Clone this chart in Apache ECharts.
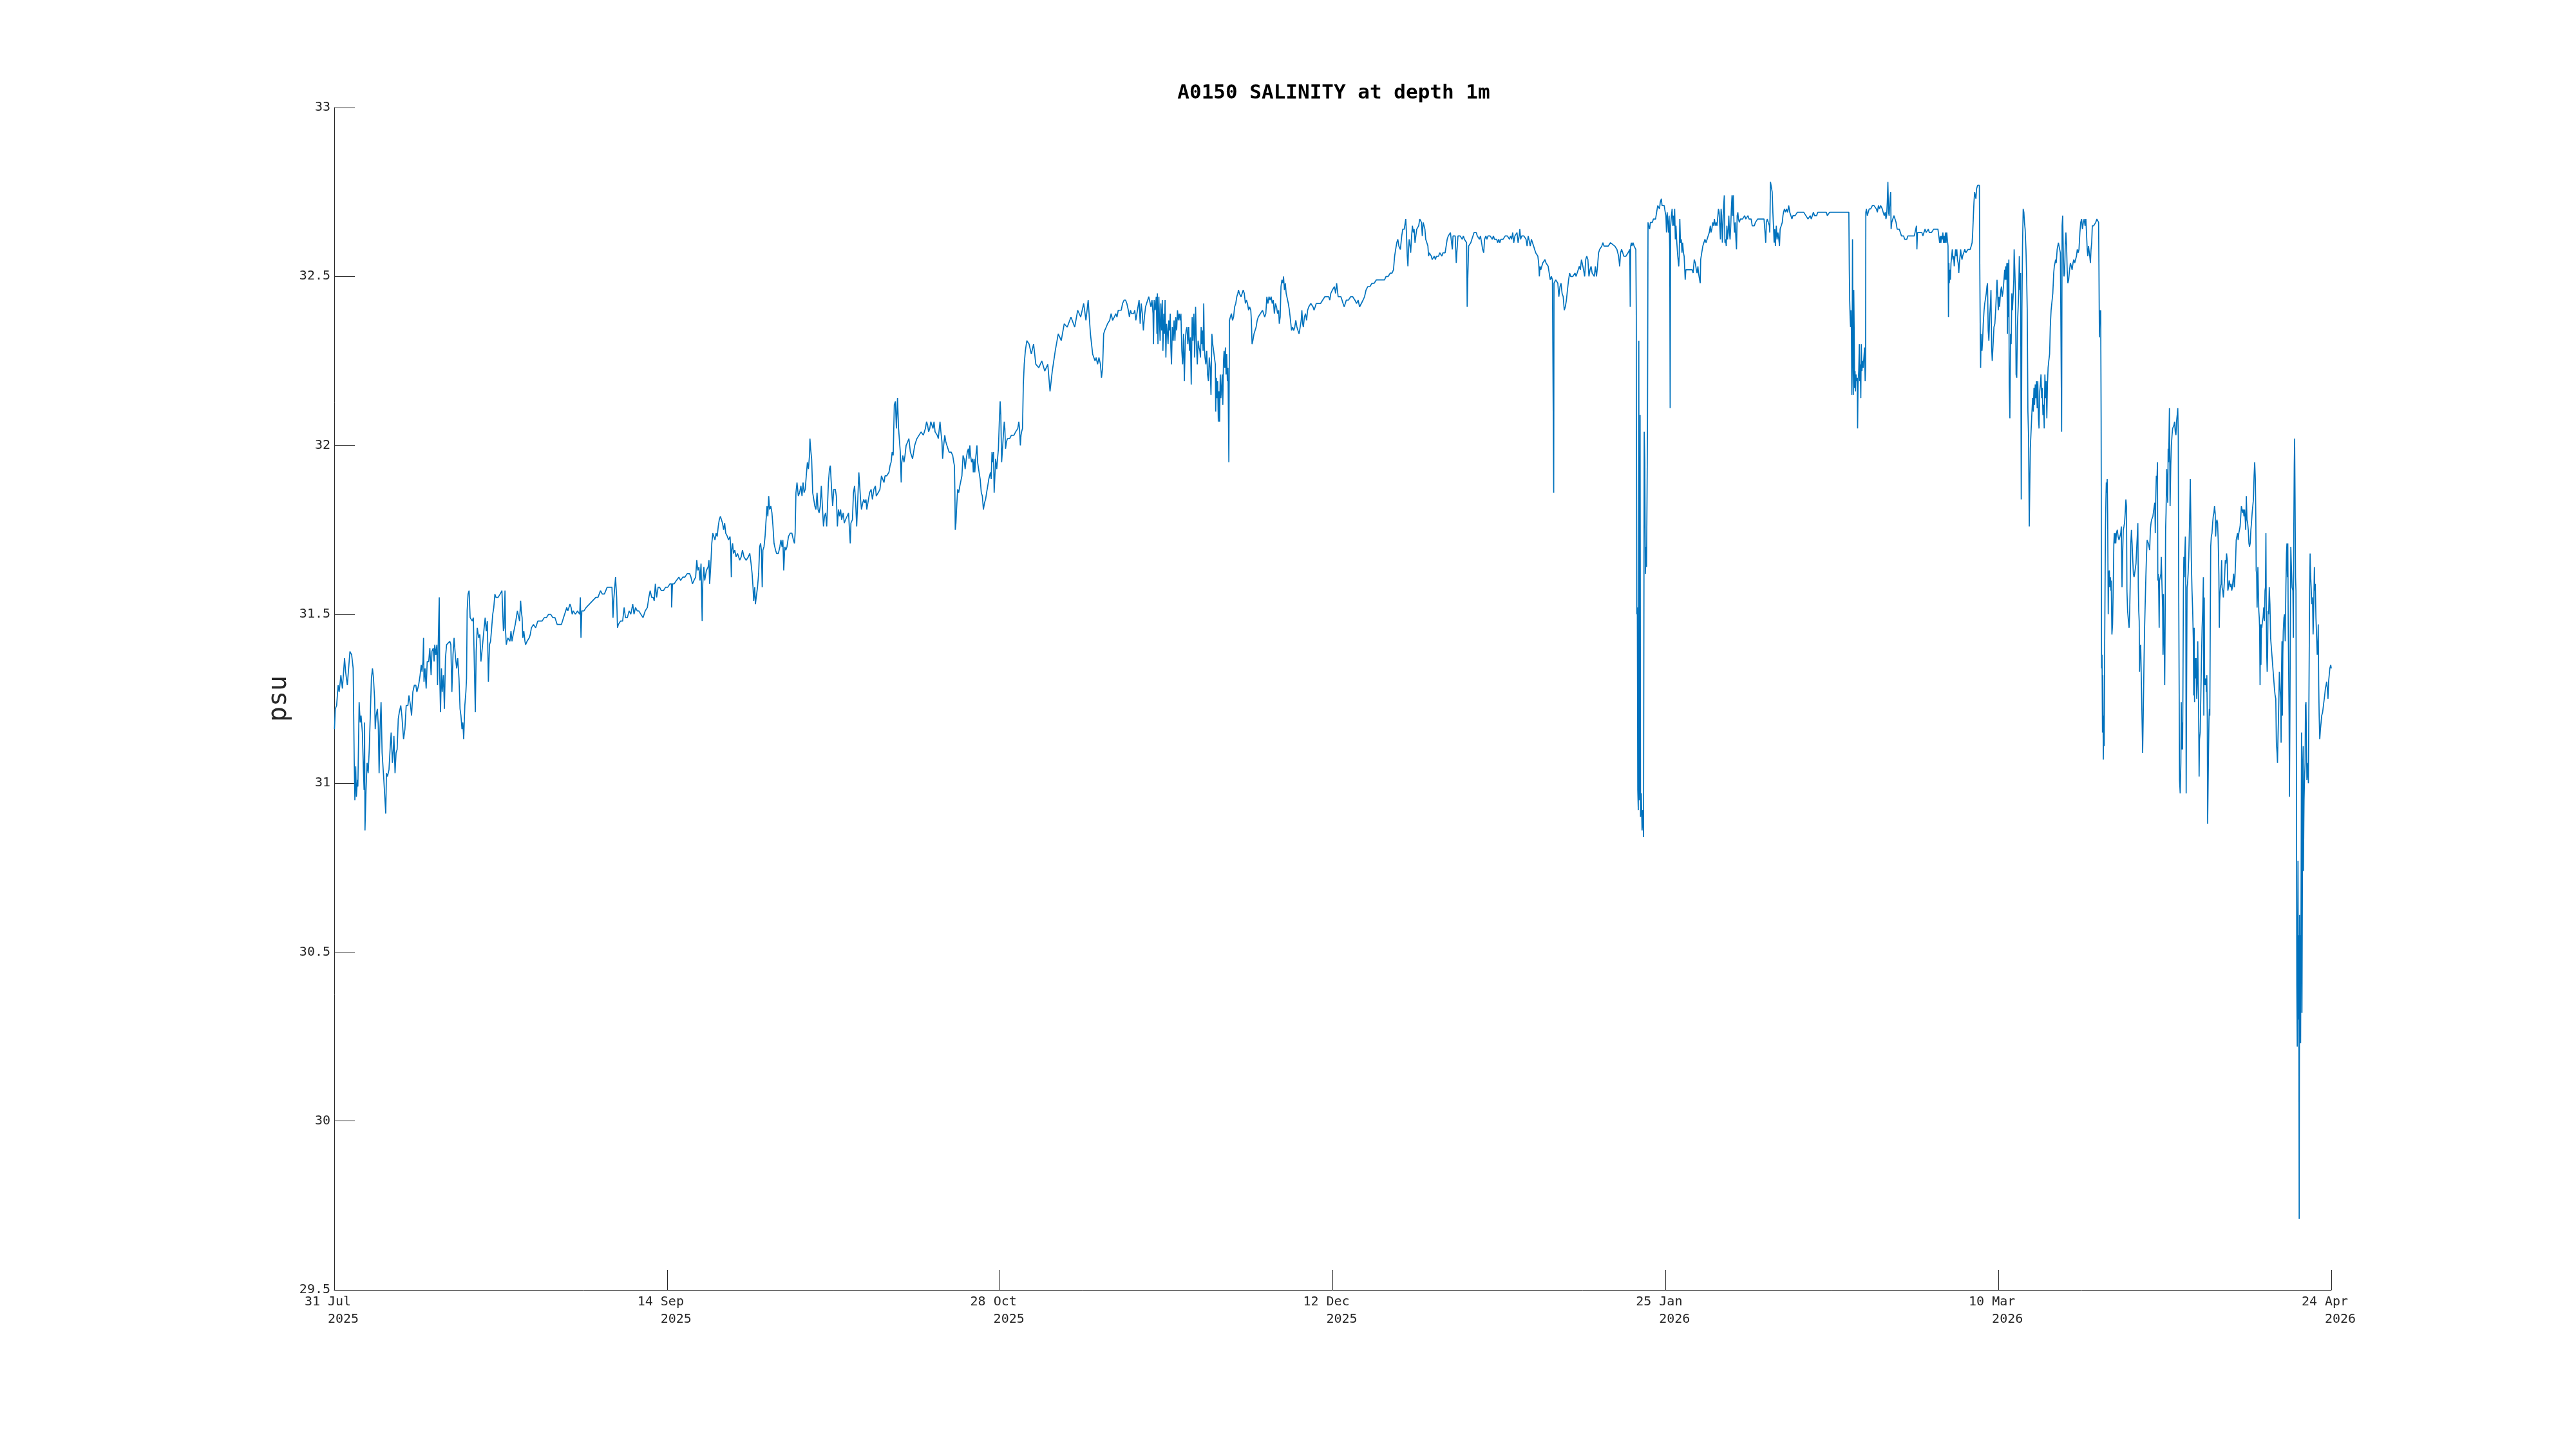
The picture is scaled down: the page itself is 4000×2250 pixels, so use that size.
<!DOCTYPE html>
<html>
<head>
<meta charset="utf-8">
<script src="https://cdn.jsdelivr.net/npm/echarts@6/dist/echarts.min.js"></script>
<style>html,body{margin:0;padding:0;background:#fff}#chart{width:4000px;height:2250px}</style>
</head>
<body>
<div id="chart"></div>
<script>
// ---- text ----
const titleText = 'A0150 SALINITY at depth 1m';
const yAxisName = 'psu';
// ---- x tick labels (ticks every 44.5 days from 31 Jul 2025) ----
const tickStepDays = 44.5;
const tickDayMonth = ['31 Jul', '14 Sep', '28 Oct', '12 Dec', '25 Jan', '10 Mar', '24 Apr'];
const tickYear = ['2025', '2025', '2025', '2025', '2026', '2026', '2026'];
// ---- y ticks ----
const yMin = 29.5, yMax = 33, yStep = 0.5;
// ---- salinity readings: [days since 31 Jul 2025 00:00, psu] ----
const readingsJulAug = [[0.03,31.16],[0.14,31.22],[0.32,31.23],[0.52,31.29],[0.66,31.27],[0.89,31.32],[1.09,31.28],[1.38,31.37],[1.52,31.33],[1.75,31.29],[2.10,31.39],[2.33,31.38],[2.53,31.34],[2.67,31.07],[2.76,30.95],[2.87,31.05],[2.96,30.96],[3.10,31.01],[3.16,30.99],[3.33,31.24],[3.47,31.18],[3.59,31.20],[3.76,31.15],[3.90,31.04],[3.99,30.98],[4.06,31.18],[4.11,30.86],[4.25,30.98],[4.39,31.06],[4.54,31.03],[4.68,31.10],[4.82,31.20],[4.97,31.31],[5.11,31.34],[5.25,31.31],[5.40,31.25],[5.48,31.16],[5.60,31.20],[5.77,31.22],[5.89,31.17],[6.00,31.03],[6.12,31.16],[6.26,31.24],[6.40,31.09],[6.63,31.01],[6.75,31.01],[6.89,30.91],[6.98,31.03],[7.12,31.02],[7.32,31.04],[7.49,31.11],[7.61,31.15],[7.78,31.06],[7.90,31.10],[7.98,31.14],[8.13,31.03],[8.27,31.09],[8.41,31.10],[8.56,31.19],[8.70,31.21],[8.90,31.23],[9.04,31.20],[9.27,31.13],[9.45,31.16],[9.62,31.23],[9.85,31.23],[9.99,31.26],[10.19,31.23],[10.34,31.20],[10.51,31.27],[10.71,31.29],[10.91,31.29],[11.05,31.27],[11.28,31.29],[11.48,31.32],[11.63,31.35],[11.74,31.33],[11.86,31.36],[11.94,31.43],[12.00,31.30],[12.14,31.34],[12.29,31.28],[12.43,31.36],[12.63,31.36],[12.78,31.40],[12.95,31.32],[13.06,31.39],[13.24,31.40],[13.35,31.36],[13.44,31.41],[13.58,31.38],[13.72,31.41],[13.81,31.29],[13.92,31.43],[14.04,31.55],[14.10,31.32],[14.21,31.21],[14.33,31.34],[14.44,31.27],[14.59,31.32],[14.73,31.22],[14.87,31.37],[15.02,31.41],[15.19,31.41],[15.45,31.42],[15.59,31.41],[15.73,31.27],[15.88,31.38],[16.02,31.43],[16.22,31.37],[16.37,31.34],[16.51,31.37],[16.68,31.31],[16.82,31.22],[16.94,31.20],[17.08,31.16],[17.20,31.18],[17.31,31.13],[17.46,31.23],[17.60,31.27],[17.69,31.31],[17.77,31.51],[17.89,31.56],[18.03,31.57],[18.17,31.49],[18.32,31.49],[18.46,31.48],[18.60,31.49],[18.75,31.49],[18.86,31.21],[18.98,31.39],[19.12,31.46],[19.32,31.43],[19.47,31.44],[19.61,31.36],[19.75,31.39],[19.90,31.39],[20.04,31.46],[20.18,31.49],[20.33,31.45],[20.47,31.48],[20.61,31.30],[20.76,31.41],[20.90,31.42],[21.05,31.46],[21.19,31.50],[21.33,31.52],[21.48,31.56],[21.62,31.55],[21.91,31.55],[22.19,31.56],[22.42,31.57],[22.62,31.45],[22.71,31.46],[22.83,31.57],[22.91,31.45],[23.00,31.41],[23.20,31.43],[23.49,31.42],[23.63,31.45],[23.77,31.42],[23.92,31.44],[24.20,31.47],[24.49,31.51],[24.63,31.51],[24.78,31.48],[24.92,31.54],[25.01,31.51],[25.12,31.49],[25.21,31.43],[25.35,31.45],[25.50,31.42],[25.58,31.41],[25.78,31.42],[26.07,31.43],[26.21,31.44],[26.36,31.46],[26.64,31.47],[26.93,31.46],[27.22,31.48],[27.50,31.48],[27.79,31.48],[28.08,31.49],[28.37,31.49],[28.65,31.50],[28.94,31.50],[29.23,31.49],[29.51,31.49],[29.80,31.47],[30.09,31.47],[30.38,31.47],[30.66,31.49],[30.95,31.51],[31.09,31.52],[31.24,31.51],[31.38,31.52],[31.52,31.53],[31.67,31.52],[31.81,31.50],[31.96,31.51],[32.24,31.50],[32.53,31.51],[32.82,31.50],[32.90,31.55],[32.99,31.43],[33.10,31.51],[33.39,31.51],[33.68,31.52]];
const readingsSepOct = [[34.11,31.53],[34.54,31.54],[34.97,31.55],[35.26,31.55],[35.60,31.57],[35.83,31.56],[36.12,31.56],[36.49,31.58],[36.84,31.58],[37.13,31.58],[37.27,31.49],[37.36,31.54],[37.61,31.61],[37.76,31.55],[37.87,31.46],[37.99,31.47],[38.28,31.48],[38.56,31.48],[38.76,31.52],[38.94,31.49],[39.19,31.49],[39.42,31.51],[39.65,31.50],[39.91,31.53],[40.08,31.50],[40.28,31.52],[40.51,31.51],[40.72,31.51],[41.00,31.50],[41.29,31.49],[41.58,31.51],[41.86,31.52],[42.06,31.55],[42.24,31.57],[42.44,31.55],[42.64,31.55],[42.78,31.54],[42.93,31.59],[43.10,31.55],[43.30,31.58],[43.50,31.58],[43.73,31.57],[44.02,31.57],[44.30,31.58],[44.59,31.58],[44.88,31.59],[45.08,31.59],[45.11,31.52],[45.22,31.59],[45.45,31.59],[45.74,31.60],[46.08,31.61],[46.31,31.60],[46.60,31.61],[46.89,31.61],[47.18,31.62],[47.52,31.62],[47.69,31.61],[47.89,31.59],[48.09,31.60],[48.32,31.61],[48.47,31.66],[48.61,31.63],[48.76,31.64],[48.90,31.60],[49.04,31.65],[49.19,31.48],[49.27,31.59],[49.42,31.64],[49.53,31.60],[49.76,31.63],[49.99,31.64],[50.10,31.66],[50.19,31.59],[50.33,31.64],[50.48,31.71],[50.62,31.74],[50.76,31.74],[50.91,31.72],[51.05,31.74],[51.20,31.73],[51.34,31.76],[51.48,31.78],[51.63,31.79],[51.77,31.79],[51.91,31.77],[52.06,31.75],[52.20,31.77],[52.34,31.74],[52.57,31.73],[52.72,31.72],[52.92,31.73],[53.00,31.70],[53.09,31.61],[53.15,31.69],[53.26,31.71],[53.38,31.68],[53.55,31.69],[53.72,31.67],[53.92,31.68],[54.07,31.67],[54.21,31.66],[54.41,31.67],[54.58,31.69],[54.78,31.67],[55.07,31.66],[55.36,31.67],[55.56,31.68],[55.73,31.65],[55.87,31.62],[55.99,31.58],[56.08,31.54],[56.22,31.58],[56.31,31.53],[56.42,31.55],[56.59,31.58],[56.74,31.62],[56.88,31.70],[57.00,31.71],[57.11,31.69],[57.22,31.58],[57.31,31.69],[57.46,31.70],[57.60,31.73],[57.71,31.77],[57.86,31.82],[57.97,31.79],[58.09,31.85],[58.20,31.81],[58.37,31.82],[58.52,31.80],[58.66,31.76],[58.80,31.71],[59.00,31.69],[59.15,31.68],[59.38,31.68],[59.58,31.70],[59.72,31.72],[59.87,31.70],[59.98,31.72],[60.10,31.63],[60.24,31.70],[60.38,31.69],[60.53,31.70],[60.73,31.73],[60.96,31.74],[61.19,31.74],[61.39,31.72],[61.53,31.71],[61.62,31.74],[61.73,31.86],[61.87,31.89],[62.05,31.85],[62.22,31.86],[62.39,31.88],[62.54,31.85],[62.68,31.89],[62.82,31.86],[62.97,31.87],[63.11,31.91],[63.26,31.95],[63.40,31.93],[63.54,31.97],[63.60,32.02],[63.69,31.99],[63.83,31.96],[63.97,31.86],[64.12,31.86],[64.26,31.82],[64.40,31.81],[64.55,31.86],[64.69,31.81],[64.83,31.80],[64.98,31.82],[65.12,31.88],[65.26,31.88],[65.41,31.76],[65.55,31.79],[65.69,31.80],[65.84,31.76],[65.98,31.76],[66.07,31.89],[66.21,31.93],[66.33,31.94],[66.47,31.88],[66.64,31.82],[66.79,31.87],[66.99,31.87],[67.13,31.85],[67.27,31.76]];
const readingsOct = [[67.41,31.81],[67.56,31.79],[67.70,31.81],[67.84,31.78],[68.05,31.80],[68.19,31.77],[68.36,31.78],[68.56,31.79],[68.76,31.80],[68.91,31.80],[68.99,31.71],[69.08,31.77],[69.28,31.78],[69.42,31.86],[69.57,31.88],[69.71,31.83],[69.85,31.76],[70.00,31.84],[70.14,31.92],[70.29,31.92],[70.37,31.84],[70.49,31.81],[70.66,31.83],[70.80,31.84],[70.95,31.83],[71.09,31.84],[71.20,31.81],[71.35,31.83],[71.58,31.86],[71.78,31.87],[71.95,31.84],[72.15,31.87],[72.35,31.88],[72.47,31.85],[72.73,31.86],[72.96,31.87],[73.16,31.91],[73.30,31.91],[73.50,31.89],[73.64,31.91],[73.87,31.91],[74.16,31.92],[74.31,31.94],[74.45,31.95],[74.59,31.98],[74.73,31.97],[74.88,32.12],[75.02,32.13],[75.16,32.05],[75.31,32.14],[75.45,32.05],[75.60,32.05],[75.68,31.98],[75.80,31.89],[75.88,31.95],[76.02,31.97],[76.17,31.95],[76.31,31.97],[76.46,32.00],[76.66,32.01],[76.83,32.02],[77.03,31.98],[77.18,31.97],[77.32,31.96],[77.46,31.98],[77.61,32.00],[77.75,32.01],[77.90,32.02],[78.04,32.02],[78.18,32.03],[78.33,32.03],[78.47,32.04],[78.61,32.04],[78.76,32.03],[78.90,32.04],[79.04,32.05],[79.19,32.07],[79.33,32.06],[79.47,32.04],[79.62,32.05],[79.76,32.07],[79.90,32.07],[80.05,32.05],[80.19,32.07],[80.33,32.04],[80.48,32.04],[80.62,32.03],[80.76,32.02],[80.91,32.02],[80.99,32.07],[81.11,32.04],[81.25,32.01],[81.34,31.96],[81.48,32.00],[81.63,32.03],[81.77,32.01],[81.91,32.00],[82.06,32.00],[82.20,31.98],[82.49,31.98],[82.69,31.97],[82.83,31.95],[82.92,31.94],[82.98,31.86],[83.03,31.75],[83.12,31.77],[83.20,31.81],[83.35,31.87],[83.49,31.86],[83.64,31.88],[83.78,31.88],[83.92,31.91],[84.07,31.97],[84.21,31.96],[84.35,31.93],[84.50,31.96],[84.64,31.98],[84.78,31.99],[84.87,31.96],[84.98,32.00],[85.07,31.97],[85.21,31.95],[85.36,31.96],[85.44,31.92],[85.56,31.96],[85.64,31.92],[85.79,31.97],[85.93,32.00],[86.02,31.95],[86.13,31.95],[86.22,31.92],[86.36,31.90],[86.51,31.86],[86.65,31.85],[86.79,31.81],[86.94,31.83],[87.08,31.84],[87.22,31.86],[87.37,31.88],[87.51,31.90],[87.65,31.90],[87.74,31.92],[87.83,31.90],[87.94,31.98],[88.03,31.95],[88.14,31.98],[88.23,31.86],[88.32,31.86],[88.43,31.96],[88.58,31.93],[88.72,31.97],[88.80,31.99],[88.92,32.07],[89.03,32.13],[89.12,32.09],[89.23,31.95],[89.32,31.98],[89.43,32.02],[89.58,32.07],[89.66,32.05],[89.75,31.99],[89.87,32.01],[90.01,32.02],[90.15,32.02],[90.30,32.02],[90.53,32.03],[90.67,32.03],[90.87,32.03],[91.10,32.04],[91.24,32.04],[91.39,32.05],[91.53,32.07],[91.62,32.05],[91.73,32.00],[91.82,32.03],[91.90,32.04],[92.02,32.05],[92.13,32.18],[92.25,32.24],[92.40,32.28],[92.60,32.31],[92.90,32.30],[93.20,32.27],[93.50,32.30],[93.80,32.24],[94.20,32.23],[94.60,32.25],[95.00,32.22],[95.40,32.24],[95.70,32.16],[96.00,32.22],[96.40,32.28],[96.80,32.33],[97.20,32.31],[97.60,32.36],[98.00,32.35],[98.50,32.38],[99.00,32.35],[99.40,32.40],[99.80,32.38],[100.20,32.42],[100.50,32.37],[100.80,32.43],[101.10,32.33],[101.40,32.27]];
const readingsNovDec = [[101.72,32.25],[101.86,32.26],[102.06,32.24],[102.24,32.26],[102.44,32.24],[102.58,32.20],[102.73,32.23],[102.87,32.33],[103.01,32.34],[103.21,32.35],[103.39,32.36],[103.50,32.36],[103.67,32.37],[103.87,32.39],[104.07,32.37],[104.30,32.38],[104.48,32.39],[104.65,32.38],[104.82,32.40],[105.02,32.40],[105.22,32.40],[105.40,32.42],[105.60,32.43],[105.80,32.43],[105.97,32.42],[106.17,32.40],[106.31,32.38],[106.46,32.40],[106.60,32.39],[106.74,32.39],[106.89,32.39],[107.03,32.40],[107.17,32.37],[107.32,32.37],[107.46,32.41],[107.61,32.43],[107.75,32.36],[107.89,32.42],[108.04,32.39],[108.18,32.34],[108.32,32.38],[108.47,32.41],[108.61,32.42],[108.75,32.42],[108.90,32.44],[109.04,32.44],[109.19,32.41],[109.33,32.43],[109.47,32.39],[109.53,32.30],[109.62,32.43],[109.76,32.40],[109.90,32.44],[109.99,32.33],[110.05,32.45],[110.13,32.30],[110.25,32.44],[110.33,32.37],[110.42,32.31],[110.51,32.42],[110.62,32.34],[110.71,32.43],[110.79,32.28],[110.91,32.39],[110.99,32.33],[111.08,32.43],[111.19,32.26],[111.28,32.36],[111.40,32.33],[111.48,32.30],[111.57,32.37],[111.68,32.34],[111.77,32.39],[111.85,32.29],[111.94,32.24],[112.05,32.35],[112.17,32.31],[112.28,32.37],[112.40,32.31],[112.51,32.38],[112.63,32.34],[112.74,32.40],[112.86,32.37],[112.97,32.39],[113.09,32.37],[113.20,32.39],[113.32,32.28],[113.43,32.24],[113.55,32.33],[113.66,32.19],[113.78,32.31],[113.89,32.34],[114.01,32.35],[114.12,32.30],[114.24,32.35],[114.35,32.28],[114.47,32.32],[114.58,32.18],[114.70,32.38],[114.81,32.31],[114.93,32.39],[115.04,32.26],[115.16,32.41],[115.27,32.30],[115.39,32.24],[115.50,32.31],[115.62,32.29],[115.73,32.28],[115.82,32.26],[115.90,32.35],[115.99,32.30],[116.08,32.34],[116.16,32.28],[116.25,32.42],[116.33,32.29],[116.42,32.26],[116.53,32.24],[116.65,32.28],[116.76,32.21],[116.88,32.19],[116.99,32.26],[117.11,32.23],[117.22,32.15],[117.34,32.33],[117.45,32.30],[117.57,32.28],[117.68,32.26],[117.80,32.24],[117.85,32.10],[117.94,32.20],[118.03,32.14],[118.11,32.19],[118.20,32.07],[118.28,32.16],[118.37,32.07],[118.46,32.21],[118.54,32.14],[118.63,32.17],[118.72,32.21],[118.80,32.12],[118.89,32.25],[118.97,32.28],[119.06,32.23],[119.15,32.29],[119.23,32.21],[119.32,32.27],[119.41,32.19],[119.49,32.23],[119.55,32.09],[119.61,31.95],[119.69,32.37],[119.81,32.38],[119.95,32.39],[120.10,32.37],[120.24,32.38],[120.38,32.41],[120.53,32.42],[120.67,32.44],[120.81,32.45],[120.90,32.46],[121.01,32.45],[121.13,32.45],[121.24,32.44],[121.39,32.45],[121.53,32.46],[121.67,32.45],[121.82,32.42],[121.96,32.43],[122.10,32.42],[122.25,32.40],[122.39,32.41],[122.54,32.40],[122.62,32.37],[122.71,32.30],[122.82,32.31],[122.97,32.33],[123.11,32.33],[123.25,32.35],[123.40,32.37],[123.54,32.38],[123.68,32.38],[123.83,32.39],[123.97,32.39],[124.11,32.40],[124.26,32.40],[124.40,32.38],[124.55,32.39],[124.69,32.44],[124.83,32.42],[124.98,32.44],[125.12,32.43],[125.26,32.44],[125.41,32.42],[125.55,32.43],[125.69,32.39],[125.84,32.42],[125.98,32.41],[126.12,32.39],[126.27,32.40],[126.35,32.36],[126.47,32.38],[126.58,32.47],[126.70,32.49],[126.84,32.48],[126.92,32.50],[127.04,32.46],[127.16,32.48],[127.27,32.45],[127.42,32.45],[127.56,32.42],[127.70,32.40],[127.85,32.37],[127.99,32.34],[128.13,32.35],[128.28,32.34],[128.42,32.35],[128.56,32.37],[128.71,32.35],[128.85,32.34],[129.00,32.33],[129.14,32.35],[129.28,32.37],[129.37,32.40],[129.48,32.36],[129.57,32.35],[129.71,32.38],[129.86,32.39],[130.00,32.37],[130.14,32.40],[130.29,32.41],[130.43,32.41],[130.57,32.42],[130.72,32.42],[130.86,32.41],[131.00,32.40],[131.15,32.41],[131.29,32.42],[131.58,32.42],[131.87,32.42],[132.15,32.43],[132.44,32.44],[132.73,32.44],[132.96,32.44],[133.10,32.43],[133.24,32.45],[133.45,32.46],[133.59,32.46],[133.73,32.47],[133.88,32.45],[134.02,32.48],[134.11,32.48],[134.22,32.44],[134.39,32.44],[134.59,32.44],[134.74,32.43],[134.88,32.42],[135.03,32.41],[135.17,32.42],[135.31,32.43],[135.60,32.43],[135.89,32.44],[136.17,32.44]];
const readingsDecJan = [[136.46,32.43],[136.69,32.42],[136.89,32.43],[137.09,32.41],[137.32,32.42],[137.55,32.43],[137.75,32.44],[137.95,32.46],[138.18,32.47],[138.47,32.47],[138.75,32.48],[139.04,32.48],[139.33,32.49],[139.62,32.49],[139.90,32.49],[140.19,32.49],[140.42,32.49],[140.62,32.50],[140.91,32.50],[141.19,32.51],[141.42,32.51],[141.62,32.52],[141.77,32.56],[141.91,32.58],[142.06,32.60],[142.20,32.61],[142.34,32.59],[142.54,32.58],[142.72,32.62],[142.86,32.64],[143.06,32.64],[143.26,32.67],[143.35,32.63],[143.46,32.56],[143.55,32.53],[143.63,32.58],[143.72,32.61],[143.84,32.59],[143.92,32.57],[144.04,32.62],[144.15,32.65],[144.27,32.63],[144.38,32.64],[144.50,32.60],[144.61,32.62],[144.73,32.64],[144.87,32.64],[144.99,32.65],[145.13,32.67],[145.24,32.67],[145.36,32.66],[145.47,32.62],[145.59,32.66],[145.70,32.66],[145.82,32.64],[145.93,32.61],[146.08,32.61],[146.22,32.59],[146.31,32.56],[146.42,32.57],[146.56,32.57],[146.68,32.56],[146.79,32.55],[146.94,32.55],[147.08,32.56],[147.22,32.55],[147.37,32.56],[147.51,32.56],[147.65,32.56],[147.80,32.57],[147.94,32.57],[148.09,32.56],[148.23,32.57],[148.37,32.57],[148.52,32.57],[148.66,32.59],[148.80,32.61],[148.95,32.62],[149.09,32.62],[149.23,32.63],[149.38,32.63],[149.49,32.58],[149.58,32.62],[149.72,32.62],[149.87,32.62],[150.01,32.54],[150.09,32.57],[150.24,32.62],[150.38,32.62],[150.53,32.62],[150.67,32.62],[150.81,32.61],[150.96,32.62],[151.10,32.61],[151.24,32.61],[151.39,32.60],[151.44,32.50],[151.47,32.41],[151.56,32.50],[151.67,32.59],[151.82,32.59],[151.96,32.60],[152.10,32.61],[152.25,32.62],[152.39,32.63],[152.53,32.63],[152.68,32.63],[152.82,32.62],[152.97,32.62],[153.11,32.61],[153.25,32.62],[153.40,32.60],[153.54,32.58],[153.68,32.57],[153.80,32.61],[153.97,32.62],[154.11,32.61],[154.26,32.62],[154.40,32.62],[154.54,32.62],[154.69,32.62],[154.83,32.61],[154.98,32.62],[155.12,32.61],[155.26,32.61],[155.41,32.61],[155.55,32.60],[155.69,32.61],[155.84,32.60],[155.98,32.61],[156.12,32.61],[156.27,32.61],[156.41,32.61],[156.55,32.62],[156.70,32.62],[156.84,32.62],[156.99,32.62],[157.13,32.61],[157.27,32.62],[157.42,32.61],[157.56,32.63],[157.70,32.60],[157.85,32.62],[157.99,32.62],[158.13,32.63],[158.28,32.60],[158.42,32.62],[158.51,32.64],[158.62,32.61],[158.77,32.62],[158.91,32.62],[159.05,32.62],[159.20,32.62],[159.34,32.61],[159.48,32.59],[159.63,32.62],[159.77,32.62],[159.91,32.59],[160.06,32.61],[160.20,32.61],[160.35,32.59],[160.49,32.58],[160.63,32.57],[160.78,32.57],[160.92,32.56],[161.03,32.54],[161.12,32.50],[161.21,32.53],[161.32,32.52],[161.43,32.52],[161.58,32.54],[161.72,32.54],[161.87,32.55],[162.01,32.54],[162.15,32.54],[162.30,32.53],[162.44,32.51],[162.58,32.49],[162.73,32.50],[162.87,32.49],[163.01,32.49],[163.04,31.86],[163.08,32.48],[163.16,32.48],[163.30,32.49],[163.44,32.49],[163.59,32.48],[163.73,32.44],[163.88,32.47],[164.02,32.48],[164.16,32.45],[164.31,32.44],[164.45,32.40],[164.59,32.41],[164.74,32.43],[164.88,32.46],[165.03,32.49],[165.17,32.51],[165.31,32.50],[165.46,32.50],[165.60,32.50],[165.74,32.50],[165.89,32.51],[166.03,32.50],[166.17,32.50],[166.32,32.52],[166.46,32.53],[166.60,32.52],[166.75,32.55],[166.89,32.55],[167.03,32.52],[167.18,32.50],[167.32,32.55],[167.46,32.56],[167.61,32.55],[167.75,32.50],[167.90,32.52],[168.04,32.53],[168.18,32.51],[168.33,32.51],[168.47,32.50],[168.61,32.53],[168.76,32.50],[168.90,32.53],[169.04,32.57],[169.19,32.58],[169.33,32.58],[169.47,32.59],[169.62,32.60],[169.76,32.59],[169.90,32.59],[170.05,32.59],[170.19,32.59],[170.34,32.59],[170.48,32.59]];
const readingsJanFeb = [[170.63,32.60],[171.20,32.59],[171.49,32.58],[171.72,32.56],[171.86,32.53],[171.98,32.57],[172.12,32.58],[172.27,32.57],[172.41,32.56],[172.55,32.56],[172.70,32.56],[172.87,32.56],[172.98,32.57],[173.10,32.57],[173.21,32.58],[173.27,32.41],[173.33,32.59],[173.42,32.60],[173.50,32.59],[173.64,32.60],[173.79,32.59],[173.93,32.59],[174.02,32.58],[174.08,32.40],[174.15,31.50],[174.22,31.52],[174.28,30.98],[174.35,30.92],[174.42,32.31],[174.48,30.95],[174.53,31.00],[174.59,32.09],[174.65,30.90],[174.75,30.97],[174.85,30.86],[174.95,30.92],[175.05,30.84],[175.14,32.04],[175.22,31.95],[175.30,31.62],[175.38,31.70],[175.45,31.64],[175.52,31.85],[175.58,32.05],[175.65,32.66],[175.74,32.66],[175.86,32.64],[175.97,32.66],[176.09,32.66],[176.23,32.66],[176.37,32.67],[176.52,32.67],[176.66,32.67],[176.80,32.69],[176.95,32.71],[177.09,32.71],[177.18,32.70],[177.29,32.72],[177.43,32.73],[177.52,32.71],[177.66,32.71],[177.81,32.71],[177.95,32.69],[178.04,32.68],[178.12,32.63],[178.21,32.69],[178.30,32.66],[178.38,32.63],[178.47,32.68],[178.55,32.58],[178.61,32.11],[178.67,32.65],[178.78,32.68],[178.87,32.70],[178.96,32.65],[179.04,32.68],[179.13,32.65],[179.21,32.70],[179.30,32.61],[179.39,32.65],[179.47,32.61],[179.59,32.57],[179.67,32.55],[179.76,32.53],[179.82,32.56],[179.90,32.67],[179.99,32.60],[180.10,32.61],[180.19,32.57],[180.28,32.60],[180.39,32.57],[180.48,32.56],[180.56,32.56],[180.62,32.49],[180.71,32.52],[180.82,32.52],[180.97,32.52],[181.11,32.52],[181.25,32.52],[181.40,32.52],[181.54,32.52],[181.68,32.51],[181.83,32.55],[181.97,32.54],[182.11,32.52],[182.20,32.51],[182.32,32.53],[182.40,32.51],[182.55,32.49],[182.63,32.48],[182.69,32.55],[182.83,32.57],[182.98,32.59],[183.12,32.60],[183.26,32.61],[183.41,32.60],[183.55,32.61],[183.69,32.62],[183.84,32.63],[183.98,32.65],[184.07,32.63],[184.18,32.64],[184.30,32.66],[184.41,32.65],[184.53,32.67],[184.64,32.65],[184.76,32.66],[184.87,32.65],[184.99,32.65],[185.07,32.70],[185.16,32.69],[185.24,32.65],[185.33,32.61],[185.42,32.70],[185.50,32.68],[185.59,32.60],[185.67,32.65],[185.76,32.71],[185.85,32.74],[185.93,32.60],[186.02,32.61],[186.11,32.59],[186.19,32.65],[186.28,32.61],[186.36,32.63],[186.45,32.68],[186.54,32.63],[186.62,32.61],[186.71,32.65],[186.79,32.70],[186.88,32.74],[186.97,32.68],[187.05,32.74],[187.14,32.66],[187.22,32.63],[187.31,32.66],[187.40,32.61],[187.48,32.58],[187.57,32.68],[187.66,32.69],[187.74,32.67],[187.86,32.66],[188.00,32.67],[188.14,32.67],[188.29,32.67],[188.43,32.67],[188.57,32.68],[188.72,32.67],[188.86,32.67],[189.01,32.68],[189.15,32.67],[189.29,32.67],[189.44,32.67],[189.58,32.65],[189.72,32.65],[189.87,32.65],[190.01,32.66],[190.15,32.66],[190.30,32.67],[190.44,32.67],[190.58,32.67],[190.73,32.67],[190.87,32.67],[191.02,32.67],[191.16,32.67],[191.30,32.67],[191.39,32.60],[191.47,32.66],[191.59,32.67],[191.73,32.66],[191.88,32.65],[191.93,32.63],[192.02,32.78],[192.16,32.78],[192.25,32.75],[192.34,32.69],[192.42,32.65],[192.51,32.60],[192.60,32.64],[192.68,32.59],[192.80,32.65],[192.91,32.61],[193.02,32.63],[193.14,32.61],[193.23,32.59],[193.31,32.64],[193.46,32.65],[193.60,32.66],[193.69,32.68],[193.77,32.69],[193.89,32.70],[194.03,32.69],[194.17,32.70],[194.32,32.69],[194.46,32.71],[194.60,32.69],[194.75,32.68],[194.89,32.67],[195.03,32.68],[195.18,32.68],[195.32,32.68],[195.47,32.68],[195.61,32.69],[195.75,32.69],[195.90,32.69],[196.04,32.69],[196.18,32.69],[196.33,32.69],[196.47,32.69],[196.61,32.69],[196.76,32.68],[196.90,32.68],[197.04,32.67],[197.19,32.67],[197.33,32.68],[197.47,32.67],[197.62,32.68],[197.76,32.69],[197.91,32.68],[198.05,32.68],[198.19,32.68],[198.34,32.69],[198.48,32.69],[198.62,32.69],[198.77,32.69],[198.91,32.69],[199.05,32.69],[199.20,32.69],[199.34,32.69],[199.48,32.69],[199.63,32.68],[199.77,32.68],[199.92,32.69],[200.20,32.69],[200.49,32.69],[200.78,32.69],[201.06,32.69],[201.35,32.69],[201.64,32.69],[201.92,32.69],[202.21,32.69],[202.50,32.69],[202.56,32.52],[202.61,32.43],[202.67,32.38],[202.73,32.35],[202.79,32.40],[202.84,32.34],[202.90,32.15],[202.96,32.40],[202.99,32.61],[203.05,32.27],[203.10,32.15],[203.16,32.46],[203.22,32.33],[203.27,32.17],[203.33,32.22],[203.39,32.16],[203.45,32.21],[203.53,32.19],[203.62,32.20],[203.67,32.05],[203.73,32.18],[203.82,32.22],[203.90,32.30],[203.96,32.19],[204.02,32.24],[204.10,32.14],[204.16,32.30],[204.25,32.22],[204.33,32.25],[204.42,32.23],[204.51,32.26],[204.60,32.29],[204.68,32.19],[204.74,32.23],[204.77,32.69],[204.85,32.70],[204.97,32.68]];
const readingsFebMar = [[205.22,32.70],[205.42,32.70],[205.65,32.71],[205.86,32.71],[206.03,32.71],[206.17,32.70],[206.31,32.69],[206.46,32.71],[206.60,32.70],[206.75,32.71],[206.86,32.71],[206.97,32.70],[207.09,32.69],[207.23,32.68],[207.38,32.69],[207.46,32.67],[207.55,32.68],[207.64,32.72],[207.72,32.78],[207.81,32.69],[207.89,32.68],[208.01,32.73],[208.09,32.75],[208.15,32.64],[208.24,32.66],[208.38,32.67],[208.53,32.68],[208.67,32.68],[208.81,32.66],[208.96,32.64],[209.10,32.64],[209.24,32.64],[209.39,32.63],[209.53,32.62],[209.67,32.62],[209.82,32.62],[209.96,32.61],[210.10,32.61],[210.25,32.61],[210.39,32.62],[210.53,32.62],[210.68,32.62],[210.82,32.62],[210.97,32.62],[211.11,32.62],[211.25,32.62],[211.40,32.62],[211.54,32.65],[211.60,32.58],[211.68,32.63],[211.83,32.63],[211.97,32.63],[212.11,32.63],[212.26,32.63],[212.40,32.62],[212.54,32.63],[212.69,32.64],[212.83,32.63],[212.98,32.63],[213.12,32.64],[213.26,32.63],[213.41,32.63],[213.55,32.63],[213.69,32.63],[213.84,32.64],[213.98,32.64],[214.12,32.64],[214.27,32.64],[214.41,32.64],[214.55,32.64],[214.64,32.60],[214.73,32.62],[214.81,32.60],[214.90,32.62],[214.98,32.61],[215.07,32.63],[215.16,32.60],[215.24,32.62],[215.33,32.60],[215.42,32.63],[215.50,32.60],[215.59,32.63],[215.67,32.61],[215.76,32.59],[215.82,32.38],[215.88,32.54],[215.93,32.48],[215.99,32.52],[216.08,32.49],[216.16,32.54],[216.25,32.56],[216.33,32.58],[216.42,32.55],[216.51,32.56],[216.59,32.53],[216.68,32.56],[216.77,32.58],[216.85,32.56],[216.94,32.58],[217.02,32.55],[217.11,32.54],[217.20,32.51],[217.28,32.54],[217.37,32.54],[217.45,32.58],[217.54,32.56],[217.63,32.55],[217.71,32.56],[217.86,32.57],[218.00,32.58],[218.14,32.57],[218.29,32.57],[218.43,32.58],[218.57,32.58],[218.72,32.58],[218.86,32.59],[218.98,32.60],[219.06,32.63],[219.15,32.68],[219.23,32.72],[219.32,32.75],[219.41,32.75],[219.49,32.73],[219.58,32.76],[219.72,32.77],[219.87,32.77],[219.95,32.77],[220.01,32.52],[220.07,32.33],[220.12,32.23],[220.18,32.33],[220.24,32.29],[220.30,32.28],[220.38,32.31],[220.47,32.36],[220.58,32.40],[220.67,32.42],[220.78,32.42],[220.87,32.45],[220.96,32.47],[221.04,32.48],[221.13,32.34],[221.22,32.31],[221.33,32.38],[221.45,32.43],[221.50,32.46],[221.59,32.29],[221.67,32.25],[221.79,32.30],[221.90,32.35],[222.02,32.36],[222.13,32.40],[222.25,32.46],[222.31,32.49],[222.39,32.45],[222.48,32.40],[222.57,32.44],[222.65,32.41],[222.74,32.44],[222.82,32.46],[222.91,32.47],[222.99,32.44],[223.08,32.45],[223.17,32.47],[223.25,32.47],[223.34,32.52],[223.40,32.49],[223.46,32.53],[223.54,32.49],[223.63,32.54],[223.71,32.33],[223.77,32.54],[223.83,32.38],[223.89,32.55],[223.94,32.18],[224.03,32.08],[224.12,32.33],[224.20,32.30],[224.29,32.45],[224.37,32.40],[224.46,32.44],[224.55,32.49],[224.60,32.58],[224.69,32.52],[224.78,32.45],[224.86,32.21],[224.95,32.20],[225.03,32.35],[225.12,32.40],[225.21,32.45],[225.29,32.56],[225.38,32.46],[225.46,32.51],[225.55,31.84],[225.64,32.40],[225.72,32.59],[225.81,32.70],[225.90,32.69],[225.98,32.66],[226.07,32.64],[226.18,32.58],[226.27,32.50],[226.35,32.40],[226.44,32.10],[226.53,32.02],[226.62,31.76],[226.69,31.88],[226.76,31.99],[226.84,32.03],[226.96,32.09],[227.07,32.14],[227.16,32.10],[227.25,32.17],[227.33,32.12],[227.42,32.18],[227.50,32.14],[227.59,32.19],[227.68,32.11],[227.76,32.19],[227.85,32.08],[227.93,32.05],[228.02,32.16],[228.11,32.18],[228.19,32.21],[228.28,32.14],[228.36,32.17],[228.45,32.09],[228.54,32.12],[228.62,32.05],[228.71,32.21],[228.80,32.14],[228.88,32.19],[228.97,32.08],[229.05,32.18],[229.14,32.23],[229.23,32.25],[229.34,32.27],[229.43,32.35],[229.54,32.40],[229.66,32.40],[229.77,32.45],[229.89,32.51],[229.97,32.53],[230.06,32.54],[230.14,32.55],[230.23,32.54],[230.35,32.58],[230.43,32.59],[230.52,32.60],[230.60,32.59],[230.69,32.58],[230.78,32.57],[230.86,32.57],[230.95,32.04],[231.01,32.65],[231.09,32.68],[231.18,32.56],[231.26,32.50],[231.35,32.51],[231.43,32.59],[231.52,32.63],[231.61,32.59],[231.69,32.52],[231.78,32.48],[231.89,32.49],[232.01,32.52],[232.12,32.54],[232.24,32.53],[232.35,32.52],[232.47,32.54],[232.58,32.55],[232.70,32.54],[232.81,32.54],[232.93,32.56],[233.04,32.58],[233.16,32.57],[233.27,32.58],[233.39,32.63],[233.50,32.66],[233.62,32.67],[233.73,32.64],[233.85,32.66],[233.96,32.67],[234.08,32.65],[234.19,32.67],[234.31,32.67],[234.37,32.58],[234.45,32.56],[234.54,32.59],[234.62,32.59],[234.71,32.56],[234.80,32.54],[234.88,32.58],[234.97,32.60],[235.05,32.65],[235.14,32.65],[235.23,32.65],[235.37,32.65],[235.51,32.66],[235.66,32.67],[235.80,32.67],[235.89,32.66],[235.94,32.52],[236.00,32.32],[236.06,32.40],[236.12,32.36],[236.17,32.40],[236.23,32.08]];
const readingsMarApr = [[236.29,31.34],[236.35,31.38],[236.41,31.15],[236.46,31.32],[236.52,31.07],[236.58,31.20],[236.64,31.11],[236.69,31.36],[236.75,31.57],[236.81,31.75],[236.87,31.84],[236.92,31.89],[236.98,31.86],[237.04,31.90],[237.10,31.80],[237.18,31.50],[237.24,31.62],[237.33,31.63],[237.38,31.58],[237.47,31.61],[237.53,31.57],[237.58,31.60],[237.67,31.44],[237.76,31.47],[237.84,31.57],[237.93,31.71],[237.99,31.74],[238.04,31.71],[238.10,31.74],[238.19,31.71],[238.27,31.74],[238.39,31.75],[238.50,31.73],[238.62,31.72],[238.73,31.72],[238.85,31.74],[238.93,31.76],[239.02,31.58],[239.11,31.68],[239.19,31.75],[239.28,31.76],[239.36,31.77],[239.45,31.80],[239.54,31.84],[239.62,31.82],[239.68,31.57],[239.77,31.51],[239.88,31.48],[239.97,31.46],[240.05,31.51],[240.11,31.58],[240.20,31.71],[240.28,31.75],[240.37,31.71],[240.46,31.66],[240.54,31.62],[240.63,31.61],[240.71,31.62],[240.80,31.62],[240.89,31.65],[240.97,31.69],[241.06,31.73],[241.14,31.77],[241.20,31.58],[241.26,31.51],[241.32,31.48],[241.37,31.33],[241.43,31.40],[241.52,31.41],[241.60,31.41],[241.69,31.41],[241.78,31.09],[241.86,31.20],[241.95,31.34],[242.03,31.45],[242.12,31.53],[242.21,31.61],[242.29,31.67],[242.38,31.72],[242.47,31.72],[242.55,31.71],[242.64,31.71],[242.72,31.69],[242.81,31.75],[242.90,31.77],[242.98,31.78],[243.07,31.78],[243.15,31.79],[243.24,31.79],[243.33,31.82],[243.41,31.83],[243.47,31.74],[243.53,31.84],[243.61,31.91],[243.70,31.90],[243.76,31.95],[243.81,31.60],[243.87,31.62],[243.93,31.57],[243.99,31.46],[244.04,31.60],[244.13,31.61],[244.22,31.62],[244.27,31.67],[244.36,31.59],[244.45,31.52],[244.50,31.38],[244.56,31.56],[244.62,31.46],[244.68,31.38],[244.73,31.29],[244.79,31.48],[244.85,31.75],[244.91,31.80],[245.00,31.93],[245.08,31.86],[245.14,31.83],[245.19,31.99],[245.25,31.95],[245.31,32.03],[245.36,32.11],[245.45,31.82],[245.54,31.94],[245.62,32.00],[245.71,32.03],[245.79,32.05],[245.88,32.05],[245.97,32.06],[246.05,32.07],[246.14,32.04],[246.23,32.03],[246.31,32.07],[246.40,32.09],[246.48,32.11],[246.54,32.03],[246.60,31.58],[246.66,31.29],[246.71,31.01],[246.80,30.97],[246.89,31.06],[246.94,31.24],[247.00,31.10],[247.06,31.18],[247.12,31.10],[247.17,31.29],[247.23,31.57],[247.29,31.67],[247.35,31.61],[247.40,31.67],[247.49,31.73],[247.55,31.58],[247.60,30.97],[247.66,31.29],[247.72,31.58],[247.78,31.59],[247.86,31.62],[247.95,31.67],[248.03,31.75],[248.09,31.82],[248.15,31.90],[248.21,31.80],[248.29,31.66],[248.38,31.57],[248.47,31.51],[248.55,31.43],[248.61,31.26],[248.67,31.46],[248.72,31.24],[248.78,31.37],[248.84,31.31],[248.93,31.37],[249.01,31.25],[249.10,31.33],[249.15,31.42],[249.21,31.29],[249.27,31.20],[249.33,31.02],[249.38,31.13],[249.47,31.15],[249.56,31.26],[249.64,31.36],[249.73,31.46],[249.81,31.51],[249.90,31.61],[249.96,31.20],[250.02,31.55],[250.07,31.29],[250.13,31.31],[250.19,31.29],[250.25,31.31],[250.30,31.27],[250.36,31.32],[250.42,31.20],[250.47,30.88],[250.53,30.99],[250.59,31.10],[250.65,31.19],[250.70,31.22],[250.76,31.20],[250.82,31.47],[250.88,31.70],[250.96,31.73],[251.05,31.74],[251.14,31.77],[251.22,31.79],[251.31,31.80],[251.39,31.82],[251.48,31.80],[251.54,31.73],[251.62,31.77],[251.71,31.78],[251.80,31.77],[251.88,31.72],[251.97,31.62],[252.03,31.46],[252.08,31.54],[252.17,31.58],[252.26,31.59],[252.34,31.66],[252.40,31.58],[252.49,31.57],[252.57,31.55],[252.66,31.58],[252.74,31.61],[252.83,31.66],[252.92,31.65],[253.00,31.68],[253.09,31.66],[253.17,31.57],[253.26,31.58],[253.35,31.60],[253.43,31.60],[253.52,31.58],[253.61,31.59],[253.69,31.57],[253.78,31.58],[253.86,31.58],[253.95,31.62],[254.04,31.58],[254.12,31.61],[254.21,31.66],[254.29,31.72],[254.38,31.73],[254.47,31.74],[254.55,31.72],[254.64,31.74],[254.72,31.74],[254.81,31.76],[254.90,31.79],[254.98,31.82],[255.07,31.81],[255.15,31.80],[255.24,31.81],[255.33,31.79],[255.41,31.81],[255.50,31.78],[255.56,31.75],[255.64,31.85],[255.73,31.78],[255.82,31.77],[255.90,31.75],[255.99,31.71],[256.07,31.70],[256.16,31.71],[256.25,31.75],[256.33,31.77],[256.42,31.80],[256.50,31.80],[256.59,31.84],[256.68,31.91],[256.76,31.95],[256.85,31.90],[256.91,31.79],[256.96,31.63],[257.02,31.62],[257.08,31.52],[257.14,31.58],[257.19,31.64],[257.25,31.64],[257.31,31.51],[257.37,31.49],[257.42,31.46],[257.48,31.29],[257.54,31.47],[257.60,31.35],[257.65,31.47],[257.71,31.46],[257.80,31.48],[257.88,31.49],[257.97,31.52],[258.06,31.48],[258.14,31.57],[258.20,31.58],[258.26,31.74],[258.31,31.51],[258.37,31.38],[258.43,31.33],[258.49,31.38],[258.54,31.51],[258.63,31.50],[258.71,31.58],[258.80,31.53],[258.89,31.43],[258.97,31.43],[259.06,31.38],[259.14,31.38],[259.23,31.33],[259.32,31.33],[259.40,31.28],[259.49,31.26],[259.58,31.25],[259.66,31.12],[259.75,31.09],[259.81,31.06],[259.86,31.12],[259.95,31.20],[260.01,31.27],[260.06,31.33],[260.12,31.30],[260.18,31.27],[260.24,31.25],[260.29,31.12],[260.35,31.33],[260.41,31.42],[260.47,31.20],[260.52,31.38],[260.58,31.45],[260.67,31.49],[260.75,31.50],[260.84,31.42],[260.93,31.58],[261.01,31.68],[261.07,31.71],[261.13,31.61],[261.19,31.71],[261.24,31.48],[261.30,31.34],[261.36,31.20],[261.41,30.96],[261.47,31.20],[261.53,31.47],[261.59,31.70],[261.64,31.66],[261.70,31.62],[261.76,31.58],[261.82,31.58],[261.87,31.57],[261.93,31.43],[261.99,31.75],[262.05,31.94],[262.10,32.02],[262.16,31.84],[262.22,31.61],[262.28,31.57],[262.33,31.10],[262.39,30.40],[262.45,30.22],[262.50,30.50],[262.55,30.77],[262.60,30.30],[262.65,30.55],[262.71,29.71],[262.76,30.61],[262.80,30.25],[262.85,30.55],[262.90,30.23],[262.95,30.58],[263.02,31.15],[263.08,30.32],[263.14,30.70],[263.20,31.07],[263.25,31.11],[263.28,30.74],[263.33,30.88],[263.36,30.95],[263.42,31.01],[263.50,31.06],[263.55,31.23],[263.62,31.24],[263.68,31.13],[263.74,31.01],[263.82,31.03],[263.88,31.06],[263.94,31.00],[263.99,31.00],[264.05,31.38],[264.11,31.57],[264.17,31.68],[264.23,31.62],[264.31,31.58],[264.40,31.53],[264.49,31.55],[264.57,31.44],[264.63,31.49],[264.69,31.57],[264.74,31.64],[264.80,31.57],[264.86,31.59],[264.95,31.49],[265.03,31.44],[265.12,31.38],[265.20,31.41],[265.26,31.47],[265.32,31.29],[265.38,31.20],[265.46,31.13],[265.55,31.16],[265.64,31.18],[265.72,31.20],[265.84,31.21],[265.95,31.23],[266.04,31.23],[266.12,31.26],[266.21,31.28],[266.30,31.29],[266.38,31.30],[266.47,31.28],[266.56,31.25],[266.64,31.30],[266.73,31.30],[266.81,31.34],[266.93,31.35],[267.00,31.34]];

const salinity = [].concat(readingsJulAug, readingsSepOct, readingsOct, readingsNovDec, readingsDecJan, readingsJanFeb, readingsFebMar, readingsMarApr);

const chart = echarts.init(document.getElementById('chart'), null, {renderer: 'canvas'});
const axisColor = '#262626';
const monoFont = 'DejaVu Sans Mono';
chart.setOption({
  animation: false,
  backgroundColor: '#ffffff',
  title: {
    text: titleText,
    left: 2066,
    top: 124,
    textAlign: 'center',
    textStyle: {fontFamily: monoFont, fontSize: 31, fontWeight: 'bold', color: '#000000'}
  },
  grid: {left: 519, right: 380, top: 167, bottom: 247, containLabel: false},
  xAxis: {
    type: 'value',
    min: 0,
    max: tickStepDays * (tickDayMonth.length - 1),
    interval: tickStepDays,
    axisLine: {show: true, onZero: false, lineStyle: {color: axisColor, width: 1}},
    axisTick: {show: true, inside: true, length: 31, lineStyle: {color: axisColor, width: 1}},
    splitLine: {show: false},
    axisLabel: {
      show: true,
      showMinLabel: true,
      showMaxLabel: true,
      margin: 5,
      formatter: function (v) {
        const i = Math.round(v / tickStepDays);
        return '{d|' + tickDayMonth[i] + '}\n{y|' + tickYear[i] + '}';
      },
      rich: {
        d: {fontFamily: monoFont, fontSize: 20, color: axisColor, lineHeight: 27, padding: [0, 20, 0, 0]},
        y: {fontFamily: monoFont, fontSize: 20, color: axisColor, lineHeight: 27, padding: [0, 0, 0, 28]}
      }
    }
  },
  yAxis: {
    type: 'value',
    min: yMin,
    max: yMax,
    interval: yStep,
    name: yAxisName,
    nameLocation: 'middle',
    nameGap: 62,
    nameTextStyle: {fontFamily: monoFont, fontSize: 40, color: axisColor},
    axisLine: {show: true, onZero: false, lineStyle: {color: axisColor, width: 1}},
    axisTick: {show: true, inside: true, length: 32, lineStyle: {color: axisColor, width: 1}},
    splitLine: {show: false},
    axisLabel: {margin: 6, fontFamily: monoFont, fontSize: 20, color: axisColor, showMinLabel: true, showMaxLabel: true}
  },
  series: [{
    type: 'line',
    data: salinity,
    symbol: 'none',
    showSymbol: false,
    smooth: false,
    clip: true,
    lineStyle: {color: '#0072BD', width: 1.7},
    emphasis: {disabled: true}
  }]
});
</script>
</body>
</html>
